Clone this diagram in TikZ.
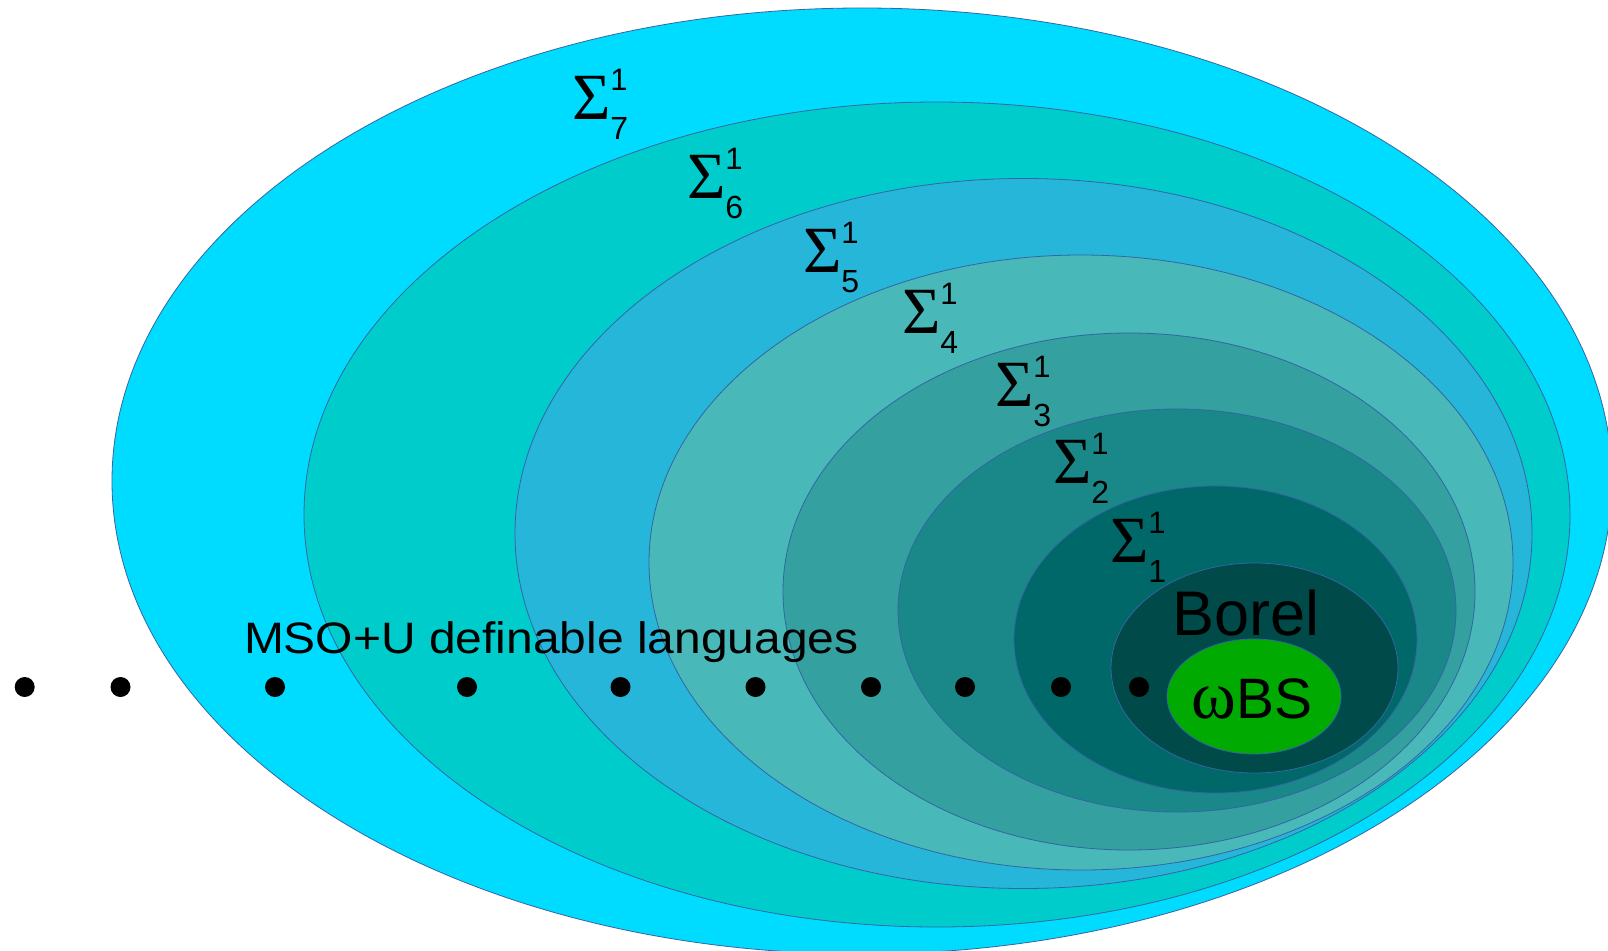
\documentclass[tikz,border=0pt]{standalone}
\usepackage{fontspec}
\setmainfont{Liberation Sans}
\newfontfamily\serf{Liberation Serif}
\usetikzlibrary{shapes.geometric}
\definecolor{c7}{HTML}{00DCFF}
\definecolor{c6}{HTML}{00CCCC}
\definecolor{c5}{HTML}{26B6DA}
\definecolor{c4}{HTML}{48B8B8}
\definecolor{c3}{HTML}{35A0A0}
\definecolor{c2}{HTML}{1A8888}
\definecolor{c1}{HTML}{006868}
\definecolor{cb}{HTML}{004A4A}
\definecolor{cw}{HTML}{00AA00}
\definecolor{edgec}{HTML}{3465A4}
\newcommand\sgm[1]{{\serf\fontsize{66}{66}\selectfont Σ}\rlap{\raisebox{29pt}{\fontsize{31}{31}\selectfont 1}}\raisebox{-20pt}{\fontsize{32}{32}\selectfont #1}}
\tikzset{
  setshape/.style={ellipse, draw=edgec, line width=0.8pt, inner sep=0pt, outer sep=0pt},
  blob/.style={circle, fill=black, minimum size=20pt, inner sep=0pt},
  lab/.style={anchor=base west, inner sep=0pt, outer sep=0pt}
}
\begin{document}
\begin{tikzpicture}[x=1pt,y=-1pt]
\clip (0,0) rectangle (1608,950);
\fill[white] (0,0) rectangle (1608,950);
\node[setshape, fill=c7, minimum width=1500pt, minimum height=946pt] (e7) at (862,481) {};
\node[setshape, fill=c6, minimum width=1266pt, minimum height=825pt] (e6) at (937,514.5) {};
\node[setshape, fill=c5, minimum width=1017pt, minimum height=710pt] (e5) at (1023.5,533.5) {};
\node[setshape, fill=c4, minimum width=864pt, minimum height=615pt] (e4) at (1081,562.5) {};
\node[setshape, fill=c3, minimum width=692pt, minimum height=517pt] (e3) at (1129,591.5) {};
\node[setshape, fill=c2, minimum width=558pt, minimum height=403pt] (e2) at (1177,610.5) {};
\node[setshape, fill=c1, minimum width=403pt, minimum height=307pt] (e1) at (1215.5,639.5) {};
\node[setshape, fill=cb, minimum width=287pt, minimum height=210pt] (eb) at (1254.5,668) {};
\node[setshape, fill=cw, minimum width=174pt, minimum height=115pt] (ew) at (1254,696.5) {};

\node[lab] (s7) at (572,119) {\sgm{7}};
\node[lab] (s6) at (687,198) {\sgm{6}};
\node[lab] (s5) at (803,272) {\sgm{5}};
\node[lab] (s4) at (902,333) {\sgm{4}};
\node[lab] (s3) at (995,406) {\sgm{3}};
\node[lab] (s2) at (1053,483) {\sgm{2}};
\node[lab] (s1) at (1110,562) {\sgm{1}};

\node[lab] (mso) at (244,653) {\scalebox{1.09}[1]{\fontsize{44}{44}\selectfont MSO+U definable languages}};
\node[lab] (borel) at (1172,635) {\fontsize{63}{63}\selectfont Borel};
\node[lab] (wbs) at (1191,718) {{\serf\fontsize{68}{68}\selectfont ω}\kern1pt{\fontsize{57}{57}\selectfont BS}};

\foreach \i/\x in {1/24.7,2/120.5,3/275,4/467,5/620.5,6/755.5,7/871,8/965,9/1061,10/1139}
  \node[blob] (d\i) at (\x,687) {};
\end{tikzpicture}
\end{document}
